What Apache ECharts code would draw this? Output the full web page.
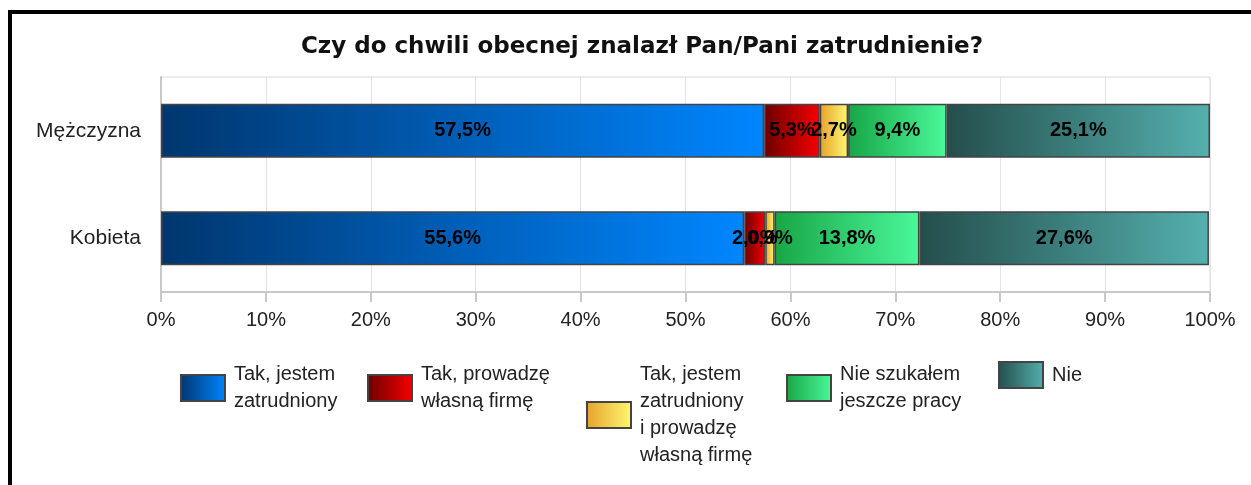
<!DOCTYPE html>
<html>
<head>
<meta charset="utf-8">
<script src="https://cdn.jsdelivr.net/npm/echarts@6/dist/echarts.min.js"></script>
<style>
  html, body { margin: 0; padding: 0; background: #fff; }
  #chart { width: 1251px; height: 485px; }
</style>
</head>
<body>
<div id="chart"></div>
<script>
const TITLE = 'Czy do chwili obecnej znalazł Pan/Pani zatrudnienie?';
const categories = ['Mężczyzna', 'Kobieta'];
const seriesNames = [
    'Tak, jestem zatrudniony',
    'Tak, prowadzę własną firmę',
    'Tak, jestem zatrudniony i prowadzę własną firmę',
    'Nie szukałem jeszcze pracy',
    'Nie'
];
const legendLabels = [
    'Tak, jestem\nzatrudniony',
    'Tak, prowadzę\nwłasną firmę',
    'Tak, jestem\nzatrudniony\ni prowadzę\nwłasną firmę',
    'Nie szukałem\njeszcze pracy',
    'Nie'
];
const zatrudniony = [57.5, 55.6];
const wlasnaFirma = [5.3, 2.0];
const obaNaraz = [2.7, 0.9];
const nieSzukal = [9.4, 13.8];
const nie = [25.1, 27.6];
const tickLabels = ['0%', '10%', '20%', '30%', '40%', '50%', '60%', '70%', '80%', '90%', '100%'];

const seriesValues = [zatrudniony, wlasnaFirma, obaNaraz, nieSzukal, nie];

// gradient start/end for each segment (dark -> light, left to right)
const gradients = [
    ['#00366e', '#0086ff'],
    ['#6c0000', '#f60000'],
    ['#e6a22c', '#fff872'],
    ['#18a646', '#4af89a'],
    ['#244e4c', '#54b0ae']
];
const legendLefts = [180, 367, 586, 786, 998];

const FONT = '"Liberation Sans", Arial, sans-serif';

function grad(c) {
    return new echarts.graphic.LinearGradient(0, 0, 1, 0, [
        { offset: 0, color: c[0] },
        { offset: 1, color: c[1] }
    ]);
}

const series = seriesNames.map((name, i) => ({
    name: name,
    type: 'bar',
    stack: 'total',
    barWidth: 54,
    data: seriesValues[i],
    itemStyle: {
        color: grad(gradients[i]),
        borderColor: '#444',
        borderWidth: 1.5
    },
    label: {
        show: true,
        position: 'inside',
        formatter: p => p.value.toFixed(1).replace('.', ',') + '%',
        color: '#000',
        fontFamily: FONT,
        fontWeight: 'bold',
        fontSize: 20
    },
    emphasis: { disabled: true }
}));

const legends = seriesNames.map((name, i) => ({
    data: [name],
    left: legendLefts[i],
    top: 361,
    orient: 'horizontal',
    icon: 'rect',
    itemWidth: 44,
    itemHeight: 26,
    padding: 0,
    selectedMode: false,
    formatter: () => legendLabels[i],
    textStyle: {
        fontFamily: FONT,
        fontSize: 20,
        lineHeight: 27,
        color: '#222',
        padding: [0, 0, 0, 4]
    }
}));

const option = {
    backgroundColor: '#fff',
    animation: false,
    title: {
        text: TITLE,
        left: 637,
        top: 31,
        textAlign: 'center',
        textStyle: {
            fontFamily: '"DejaVu Sans", Verdana, sans-serif',
            fontWeight: 'bold',
            fontSize: 23,
            color: '#111'
        }
    },
    graphic: [{
        type: 'rect',
        shape: { x: 10, y: 12, width: 1400, height: 700 },
        style: { fill: 'none', stroke: '#000', lineWidth: 4 },
        silent: true
    }],
    legend: legends,
    grid: {
        left: 161,
        right: 41,
        top: 77,
        bottom: 193,
        show: true,
        borderColor: '#d8d8d8',
        borderWidth: 1
    },
    xAxis: {
        type: 'value',
        min: 0,
        max: 100,
        interval: 10,
        axisLine: { show: true, lineStyle: { color: '#c8c8c8', width: 2 } },
        axisTick: { show: true, length: 10, lineStyle: { color: '#c8c8c8', width: 2 } },
        splitLine: { show: true, lineStyle: { color: '#e4e4e4', width: 1 } },
        axisLabel: {
            margin: 18,
            fontFamily: FONT,
            fontSize: 20,
            color: '#222',
            formatter: v => tickLabels[Math.round(v / 10)]
        }
    },
    yAxis: {
        type: 'category',
        inverse: true,
        data: categories,
        axisLine: { show: true, lineStyle: { color: '#c8c8c8', width: 2 } },
        axisTick: { show: false },
        axisLabel: {
            margin: 20,
            fontFamily: FONT,
            fontSize: 21,
            color: '#222'
        }
    },
    series: series
};

const myChart = echarts.init(document.getElementById('chart'));
myChart.setOption(option);
</script>
</body>
</html>
